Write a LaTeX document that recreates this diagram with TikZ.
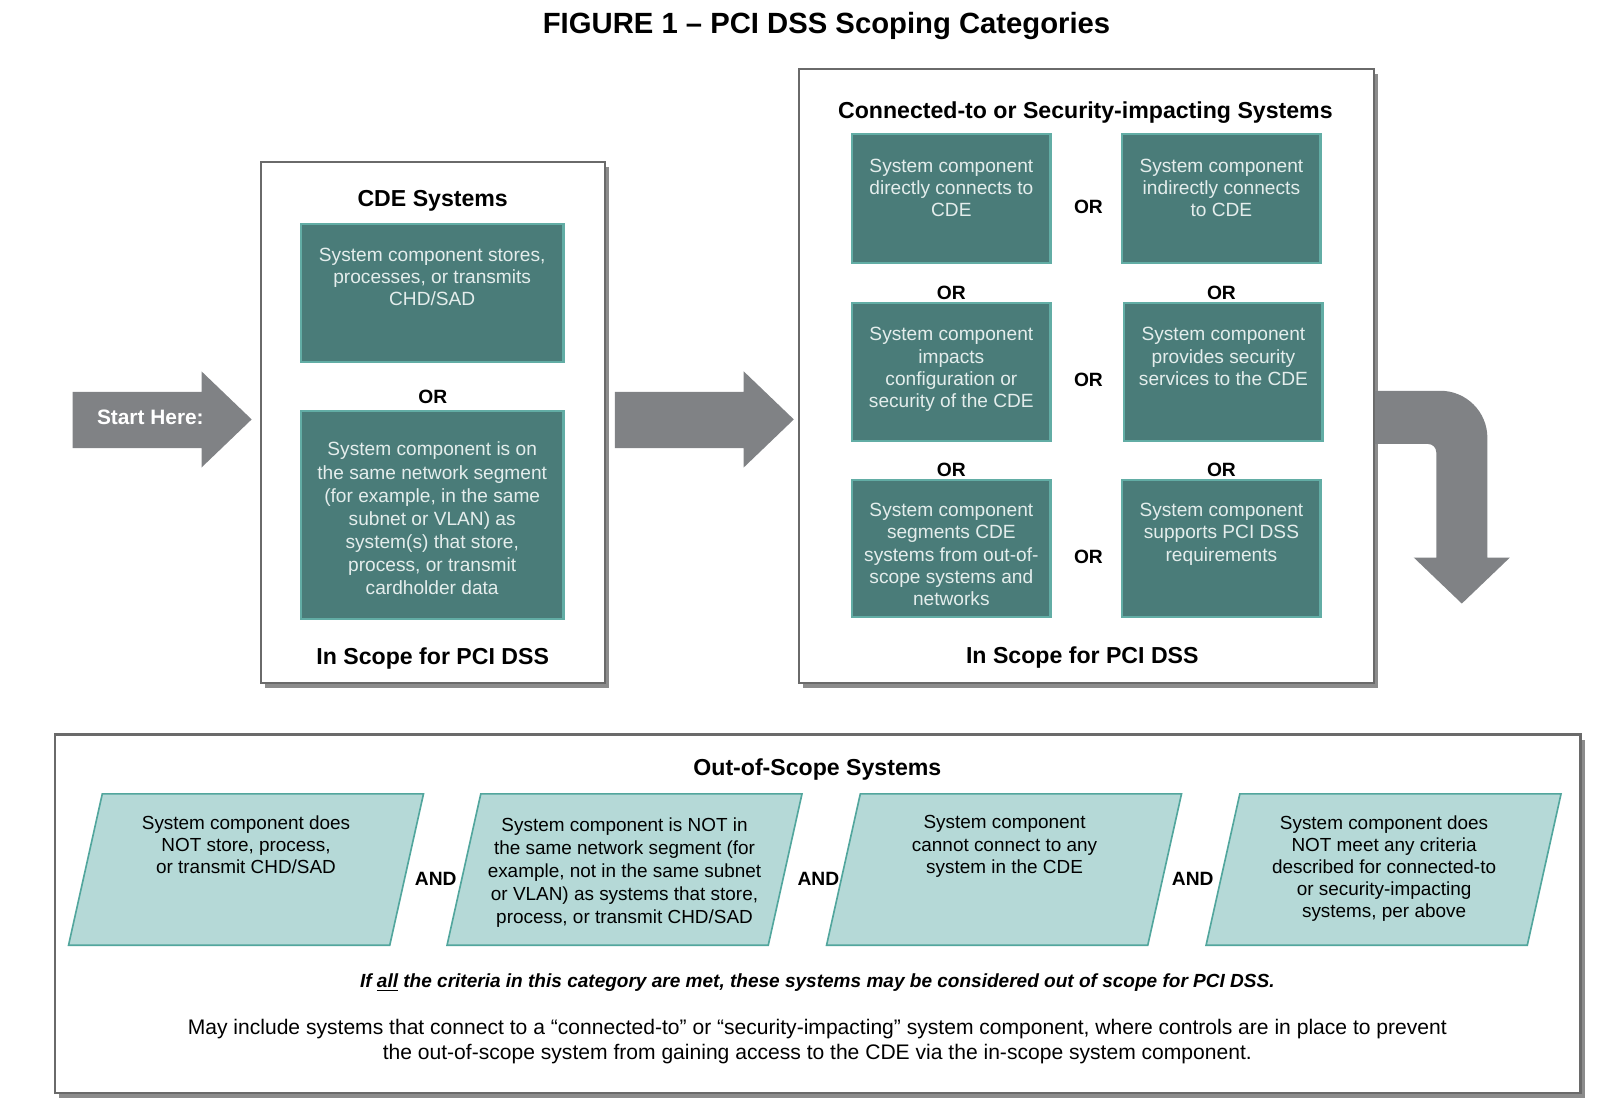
\documentclass[tikz,border=0pt]{standalone}
\usepackage{fontspec}
\setmainfont{Liberation Sans}
\usetikzlibrary{positioning,shadows}

\definecolor{tealdark}{HTML}{4A7C79}
\definecolor{teallight}{HTML}{62ADA5}
\definecolor{paleteal}{HTML}{B5D9D7}
\definecolor{paleedge}{HTML}{52A69D}
\definecolor{arrowgray}{HTML}{808285}
\definecolor{framegray}{HTML}{6A6A6A}
\definecolor{boxtxt}{HTML}{E4EDEC}

\tikzset{
  groupbox/.style={draw=framegray, line width=1pt, fill=white, inner sep=0pt,
    drop shadow={shadow xshift=2pt, shadow yshift=-2.5pt, fill=black, opacity=0.45}},
  cdebox/.style={draw=teallight, fill=tealdark, line width=1.2pt, inner sep=0pt},
  outbox/.style={draw=paleedge, fill=paleteal, line width=0.8pt},
  boxtext/.style={text=boxtxt, align=center, inner sep=0pt, font=\fontsize{9.35}{10.8}\selectfont},
  outtext/.style={align=center, inner sep=0pt, font=\fontsize{9.25}{10.8}\selectfont},
  heading/.style={inner sep=0pt, font=\bfseries\fontsize{11.3}{13}\selectfont},
  joiner/.style={inner sep=0pt, font=\bfseries\fontsize{9.4}{11}\selectfont},
}

\begin{document}
\begin{tikzpicture}[x=0.5pt,y=-0.5pt]
  \useasboundingbox (0,0) rectangle (1568,1093);

  \node[inner sep=0pt, font=\bfseries\fontsize{14.3}{16}\selectfont] (title) at (808,25)
    {FIGURE 1 -- PCI DSS Scoping Categories};

  % the three groups
  \node[groupbox, minimum width=168pt, minimum height=255pt] (cdesys) at (423,413) {};
  \node[groupbox, minimum width=281pt, minimum height=300.5pt] (connsys) at (1062,367.5) {};
  \node[groupbox, minimum width=745.5pt, minimum height=175pt] (outsys) at (799.5,893) {};

  % CDE systems
  \node[heading] (cdehead) at (423,196) {CDE Systems};
  \node[cdebox, minimum width=128.5pt, minimum height=67.5pt] (stores) at (422.5,286.5) {};
  \node[boxtext, below=12pt of stores.north] (storestext)
    {System component stores,\\ processes, or transmits\\ CHD/SAD};
  \node[joiner] (cdeor) at (423,388) {OR};
  \node[cdebox, minimum width=128.5pt, minimum height=101.5pt] (segment) at (422.5,503.5) {};
  \node[boxtext, font=\fontsize{9.35}{11.3}\selectfont, below=15.5pt of segment.north] (segmenttext)
    {System component is on\\ the same network segment\\ (for example, in the same\\ subnet or VLAN) as\\
     system(s) that store,\\ process, or transmit\\ cardholder data};
  \node[heading] (cdefoot) at (423,644) {In Scope for PCI DSS};

  % connected-to or security-impacting systems
  \node[heading] (connhead) at (1061,110) {Connected-to or Security-impacting Systems};
  \node[cdebox, minimum width=97pt, minimum height=63pt] (direct) at (930,194) {};
  \node[cdebox, minimum width=97pt, minimum height=63pt] (indirect) at (1194,194) {};
  \node[cdebox, minimum width=97pt, minimum height=67.5pt] (impacts) at (930,363.5) {};
  \node[cdebox, minimum width=97pt, minimum height=67.5pt] (services) at (1196,363.5) {};
  \node[cdebox, minimum width=97pt, minimum height=67pt] (segments) at (930,536) {};
  \node[cdebox, minimum width=97pt, minimum height=67pt] (supports) at (1194,536) {};
  \node[boxtext, below=12.5pt of direct.north] (directtext)
    {System component\\ directly connects to\\ CDE};
  \node[boxtext, below=12.5pt of indirect.north] (indirecttext)
    {System component\\ indirectly connects\\ to CDE};
  \node[boxtext, below=12.5pt of impacts.north] (impactstext)
    {System component\\ impacts\\ configuration or\\ security of the CDE};
  \node[boxtext, below=12.5pt of services.north] (servicestext)
    {System component\\ provides security\\ services to the CDE};
  \node[boxtext, below=12pt of segments.north] (segmentstext)
    {System component\\ segments CDE\\ systems from out-of-\\ scope systems and\\ networks};
  \node[boxtext, below=12pt of supports.north] (supportstext)
    {System component\\ supports PCI DSS\\ requirements};
  \foreach \x/\y in {1064/202, 930/286, 1194/286, 1064/371, 930/459, 1194/459, 1064/544}
    \node[joiner] at (\x,\y) {OR};
  \node[heading] (connfoot) at (1058,643) {In Scope for PCI DSS};

  % out-of-scope systems
  \node[heading] (outhead) at (799,752) {Out-of-Scope Systems};
  \foreach \x in {67,437,808,1179}
    \draw[outbox] (\x,924) -- ++(33,-148) -- ++(314,0) -- ++(-33,148) -- cycle;
  \node[outtext, anchor=north] (nostore) at (240.5,797)
    {System component does\\ NOT store, process,\\ or transmit CHD/SAD};
  \node[outtext, font=\fontsize{9.25}{11.3}\selectfont, anchor=north] (nosegment) at (610.5,799)
    {System component is NOT in\\ the same network segment (for\\ example, not in the same subnet\\
     or VLAN) as systems that store,\\ process, or transmit CHD/SAD};
  \node[outtext, anchor=north] (noconnect) at (982,797)
    {System component\\ cannot connect to any\\ system in the CDE};
  \node[outtext, anchor=north] (nocriteria) at (1353,797)
    {System component does\\ NOT meet any criteria\\ described for connected-to\\ or security-impacting\\ systems, per above};
  \foreach \x in {426,800,1166}
    \node[joiner] at (\x,859) {AND};
  \node[inner sep=0pt, font=\bfseries\itshape\fontsize{9.3}{11}\selectfont] (allmet) at (799,961)
    {If \underline{all} the criteria in this category are met, these systems may be considered out of scope for PCI DSS.};
  \node[inner sep=0pt, align=center, font=\fontsize{10.3}{12}\selectfont] (mayinclude) at (799,1018)
    {May include systems that connect to a “connected-to” or “security-impacting” system component, where controls are in place to prevent\\
     the out-of-scope system from gaining access to the CDE via the in-scope system component.};

  % block arrows
  \foreach \x in {71,601}
    \fill[arrowgray] (\x,383) -- ++(126,0) -- ++(0,-20) -- ++(49,47) -- ++(-49,47) -- ++(0,-19) -- ++(-126,0) -- cycle;
  \node[inner sep=0pt, text=white, font=\bfseries\fontsize{10.2}{12}\selectfont] (start) at (147,408) {Start Here:};
  \fill[arrowgray] (1344,382) -- (1408,382) arc[start angle=-90, end angle=0, radius=46]
    -- (1454,545) -- (1476,545) -- (1429,590) -- (1382,545) -- (1404,545) -- (1404,442)
    arc[start angle=0, end angle=-90, radius=8] -- (1344,434) -- cycle;
\end{tikzpicture}
\end{document}
